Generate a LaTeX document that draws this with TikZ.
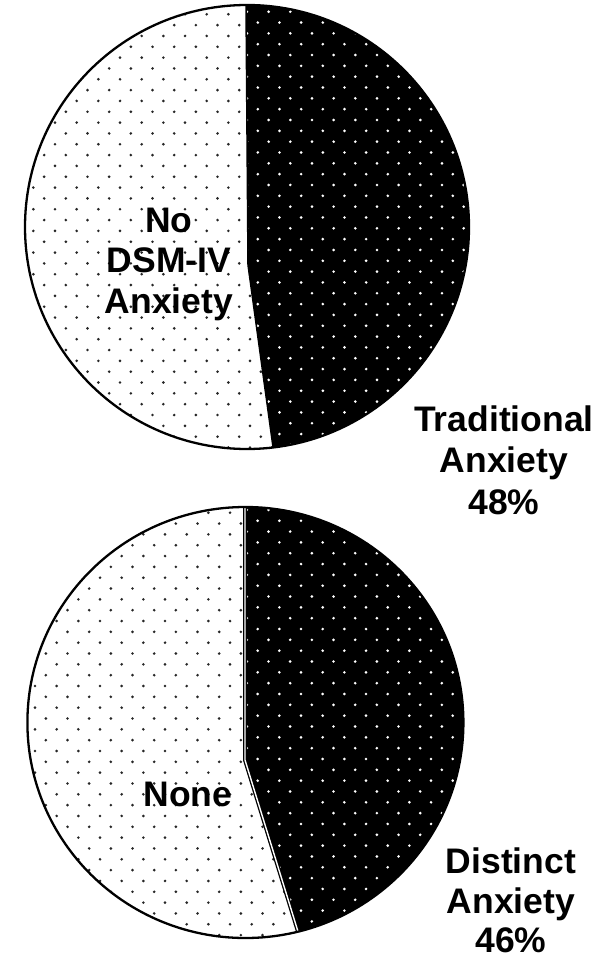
\documentclass[tikz,border=0pt]{standalone}
\usepackage{fontspec}
\setmainfont{Liberation Sans}
\newcommand\mydotgrid[4]{%
  \foreach \k in {0,...,#4}{\foreach \j in {0,...,23}{%
    \fill[#3] ({#1+21.67*\j+mod(\k,2)*10.83},{#2+10.83*\k}) circle[radius=1.45pt];}}}
\begin{document}
\begin{tikzpicture}[x=1pt,y=-1pt,
  lab/.style={font=\fontsize{35.5}{42}\selectfont\bfseries, inner sep=0pt, anchor=base},
  outline/.style={draw=black, line width=2.3pt},
  divider/.style={draw=black, line width=1.5pt},
  ddivider/.style={draw=black, line width=1.3pt, double=white, double distance=1.4pt}]
\useasboundingbox (0,0) rectangle (608,960);
% ---------- top pie ----------
\coordinate (c1) at (247,227);
\coordinate (t1) at (246,5);
\coordinate (k1) at (248,265);
\coordinate (b1) at (273,447);
\begin{scope}
  \clip (c1) ellipse [x radius=222pt, y radius=222pt];
  \fill[white] (0,0) rectangle (608,480);
  \mydotgrid{-10}{-7.36}{black!85}{44}
  \fill[black] (245.8,-20) -- (k1) -- (277.5,480) -- (500,480) -- (500,-20) -- cycle;
  \clip (245.8,-20) -- (k1) -- (277.5,480) -- (500,480) -- (500,-20) -- cycle;
  \mydotgrid{-13.07}{-9.96}{white}{44}
\end{scope}
\draw[divider] (t1) -- (k1) -- (b1);
\draw[outline] (c1) ellipse [x radius=222pt, y radius=222pt];
% ---------- bottom pie ----------
\coordinate (c2) at (245.4,722.5);
\coordinate (t2) at (245,507);
\coordinate (k2) at (245,760);
\coordinate (b2) at (298,931.5);
\begin{scope}
  \clip (c2) ellipse [x radius=218pt, y radius=215.5pt];
  \fill[white] (0,480) rectangle (608,960);
  \mydotgrid{-8.34}{469.4}{black!85}{45}
  \fill[black] (245,480) -- (k2) -- (306.8,960) -- (500,960) -- (500,480) -- cycle;
  \clip (245,480) -- (k2) -- (306.8,960) -- (500,960) -- (500,480) -- cycle;
  \mydotgrid{-2.37}{477.4}{white}{45}
\end{scope}
\draw[ddivider] (t2) -- (k2) -- (b2);
\draw[outline] (c2) ellipse [x radius=218pt, y radius=215.5pt];
% ---------- labels ----------
\node[lab] (no1) at (169,232) {No};
\node[lab] (no2) at (169,272.5) {DSM-IV};
\node[lab] (no3) at (169,313) {Anxiety};
\node[lab] (trad1) at (504,431) {Traditional};
\node[lab] (trad2) at (504,472.5) {Anxiety};
\node[lab] (trad3) at (504,514) {48\%};
\node[lab] (none) at (188,806) {None};
\node[lab] (dist1) at (511,873) {Distinct};
\node[lab] (dist2) at (511,913.5) {Anxiety};
\node[lab] (dist3) at (511,952) {46\%};
\end{tikzpicture}
\end{document}
